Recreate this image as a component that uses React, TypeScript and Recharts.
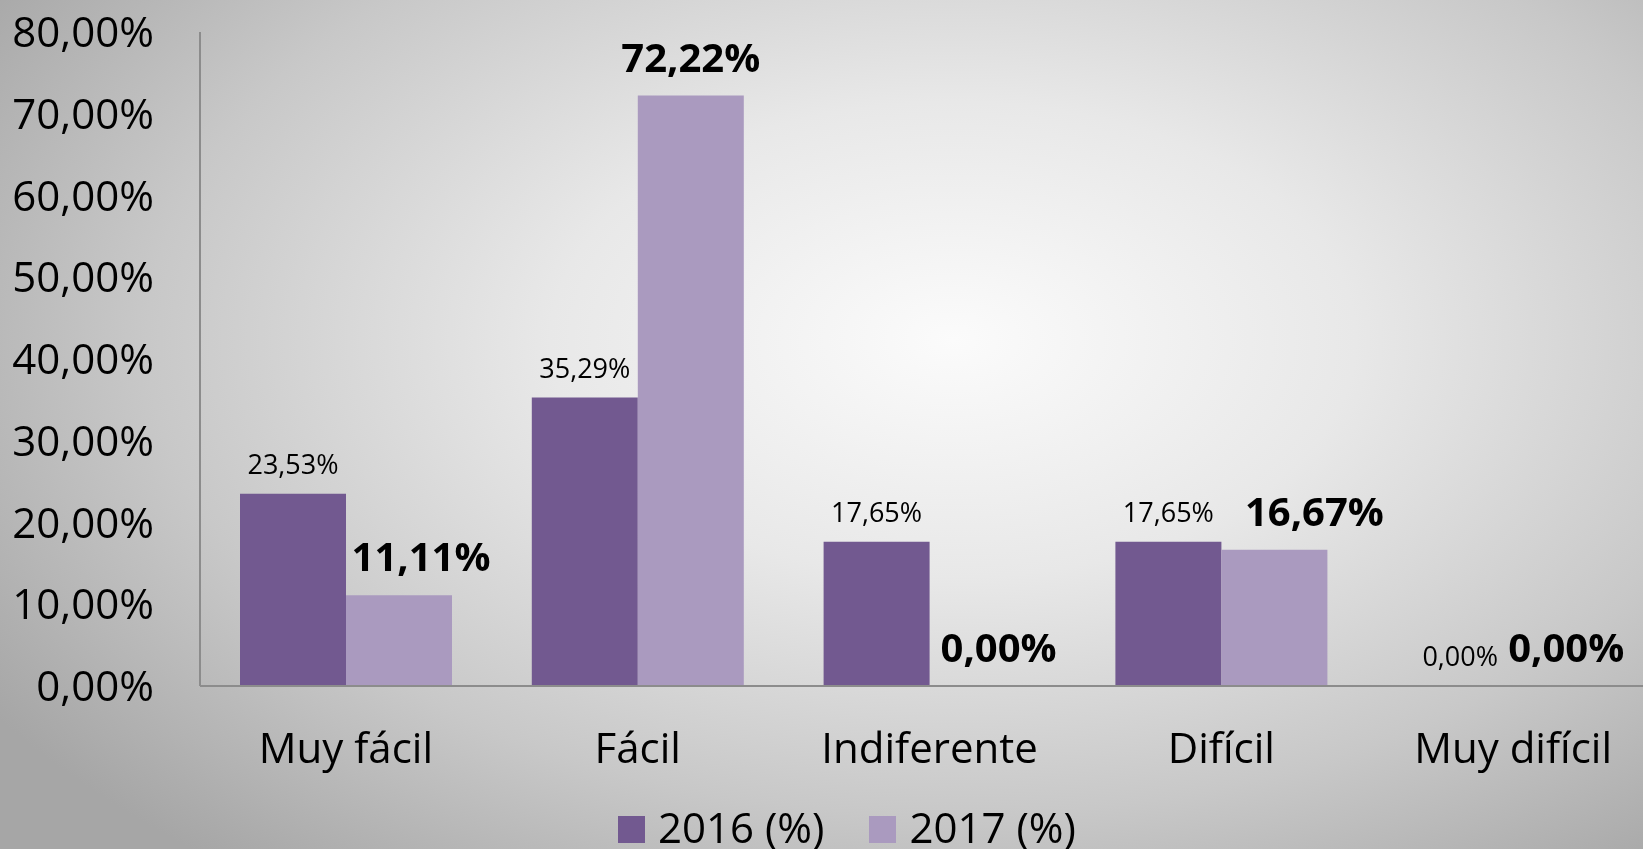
import React from "react"
import { BarChart, Bar, XAxis, YAxis, Legend, LabelList } from "recharts"

const categories = ["Muy fácil", "Fácil", "Indiferente", "Difícil", "Muy difícil"]
const values2016 = [23.53, 35.29, 17.65, 17.65, 0]
const values2017 = [11.11, 72.22, 0, 16.67, 0]
const yTicks = [0, 10, 20, 30, 40, 50, 60, 70, 80]

// nudges for the bold 2017 labels, as in the original
const shift2017 = [22, 0, 16, 40, 0]

const FONT = "'Open Sans', 'Liberation Sans', sans-serif"
const DARK = "#725990"
const LIGHT = "#aa9abf"

const fmt = (v: number) => Number(v).toFixed(2).replace(".", ",") + "%"

const chartData = categories.map((name, i) => ({
  name,
  a: values2016[i],
  b: values2017[i],
}))

const YTick = (props: any) => {
  const { y, payload } = props
  return (
    <text x={154} y={y} dy="0.36em" textAnchor="end" fontSize={42} fill="#000" fontFamily={FONT}>
      {fmt(payload.value)}
    </text>
  )
}

const XTick = (props: any) => {
  const { x, y, payload } = props
  return (
    <text x={x} y={y + 77} textAnchor="middle" fontSize={42} fill="#000" fontFamily={FONT}>
      {payload.value}
    </text>
  )
}

const box = (props: any) => {
  const vb = props.viewBox || {}
  return {
    x: props.x ?? vb.x,
    y: props.y ?? vb.y,
    w: props.width ?? vb.width,
  }
}

const smallLabel = (props: any) => {
  const { x, y, w } = box(props)
  return (
    <text x={x + w / 2} y={y - 20} textAnchor="middle" fontSize={27} fill="#000" fontFamily={FONT}>
      {fmt(props.value)}
    </text>
  )
}

const boldLabel = (props: any) => {
  const { x, y, w } = box(props)
  return (
    <text
      x={x + w / 2 + (shift2017[props.index] || 0)}
      y={y - 24}
      textAnchor="middle"
      fontSize={40}
      fontWeight="bold"
      fill="#000"
      fontFamily={FONT}
    >
      {fmt(props.value)}
    </text>
  )
}

const LegendContent = (props: any) => {
  const { payload } = props
  return (
    <div style={{ height: 44, display: "flex", paddingLeft: 618, fontFamily: FONT }}>
      {(payload || []).map((entry: any, i: number) => (
        <div key={i} style={{ display: "flex", alignItems: "flex-start", marginRight: 45 }}>
          <div style={{ width: 27, height: 27, marginTop: 11, background: entry.color }} />
          <span style={{ marginLeft: 13, fontSize: 42, lineHeight: "44px", color: "#000", whiteSpace: "nowrap" }}>
            {entry.value}
          </span>
        </div>
      ))}
    </div>
  )
}

export default function App() {
  return (
    <div
      style={{
        position: "fixed",
        left: 0,
        top: 0,
        width: 1643,
        height: 849,
        overflow: "hidden",
        background:
          "radial-gradient(ellipse 70% 80% at 58% 40%, #fbfbfb 0%, #e8e8e8 35%, #c8c8c8 70%, #a6a6a6 100%)",
      }}
    >
      <BarChart
        width={1660}
        height={849}
        data={chartData}
        margin={{ top: 32, right: 1, left: 0, bottom: 0 }}
        barGap={0}
      >
        <YAxis
          width={200}
          domain={[0, 80]}
          ticks={yTicks}
          tick={<YTick />}
          tickLine={false}
          axisLine={{ stroke: "#8c8c8c", strokeWidth: 2 }}
        />
        <XAxis
          dataKey="name"
          height={119}
          tick={<XTick />}
          tickLine={false}
          tickSize={0}
          tickMargin={0}
          axisLine={{ stroke: "#8c8c8c", strokeWidth: 2 }}
        />
        <Legend
          verticalAlign="bottom"
          content={<LegendContent />}
          wrapperStyle={{ left: 0, width: 1660 }}
        />
        <Bar dataKey="a" name="2016 (%)" fill={DARK} barSize={106} minPointSize={0.01} isAnimationActive={false}>
          <LabelList dataKey="a" content={smallLabel} />
        </Bar>
        <Bar dataKey="b" name="2017 (%)" fill={LIGHT} barSize={106} minPointSize={0.01} isAnimationActive={false}>
          <LabelList dataKey="b" content={boldLabel} />
        </Bar>
      </BarChart>
    </div>
  )
}
